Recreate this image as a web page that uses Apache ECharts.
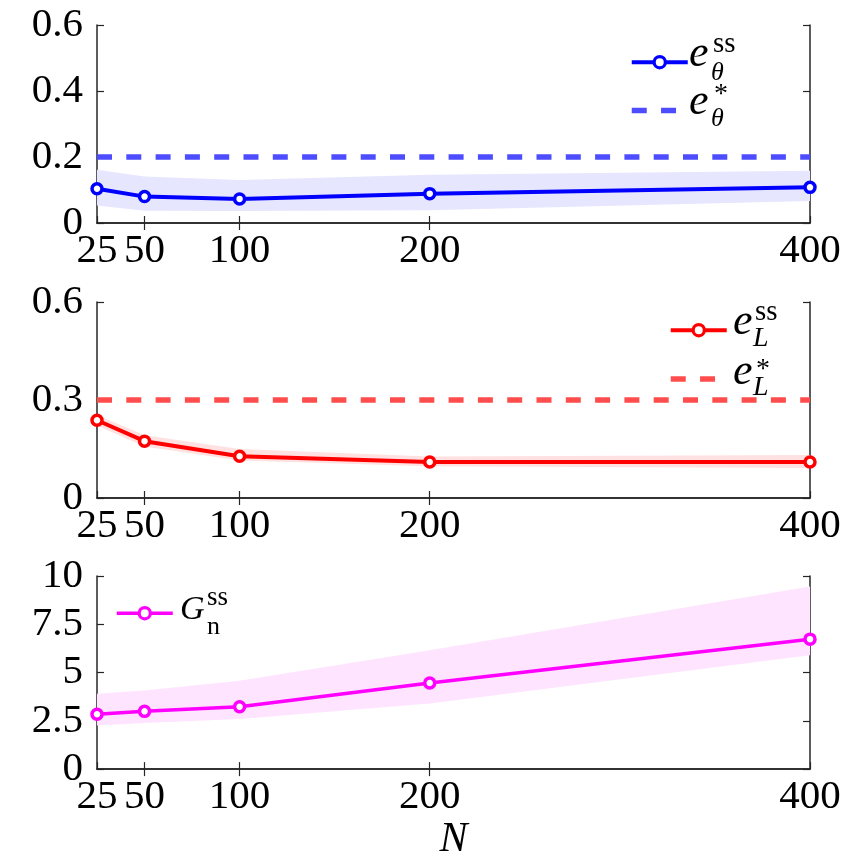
<!DOCTYPE html>
<html>
<head>
<meta charset="utf-8">
<script src="https://cdn.jsdelivr.net/npm/echarts@6/dist/echarts.min.js"></script>
<style>
  html, body { margin: 0; padding: 0; background: #fff; }
  #chart { width: 868px; height: 862px; }
</style>
</head>
<body>
<div id="chart"></div>
<script>
// sample sizes and tick values
const N = [25, 50, 100, 200, 400]
const xTicks = [25, 50, 100, 200, 400]

// panel 1: parameter error
const thetaSS = [0.104, 0.080, 0.073, 0.089, 0.108]
const thetaLo = [0.053, 0.037, 0.036, 0.039, 0.067]
const thetaHi = [0.161, 0.141, 0.130, 0.146, 0.158]
const thetaStar = 0.2

// panel 2: L error
const LSS = [0.238, 0.174, 0.128, 0.110, 0.110]
const LLo = [0.222, 0.158, 0.115, 0.097, 0.092]
const LHi = [0.254, 0.192, 0.150, 0.127, 0.132]
const LStar = 0.3

// panel 3: gain
const GSS = [2.84, 2.99, 3.23, 4.46, 6.73]
const GLo = [2.26, 2.39, 2.59, 3.40, 5.89]
const GHi = [3.90, 4.07, 4.58, 6.15, 9.46]

const FONT = '"Liberation Serif", "DejaVu Serif", serif'
const AXIS_COLOR = '#262626'

function xAxis(g, top, withName) {
  const ax = {
    gridIndex: g, type: 'value', min: 25, max: 400,
    position: top ? 'top' : 'bottom',
    axisLine: { lineStyle: { color: AXIS_COLOR, width: 1.5 } },
    axisTick: { inside: true, length: 7, customValues: top ? xTicks.slice(1, -1) : xTicks,
      lineStyle: { color: AXIS_COLOR, width: 1.2 } },
    axisLabel: { show: !top, customValues: xTicks, fontFamily: FONT, fontSize: 41, color: '#000', margin: 8 },
    splitLine: { show: false }
  }
  if (withName) {
    ax.name = 'N'
    ax.nameLocation = 'middle'
    ax.nameGap = 41
    ax.nameTextStyle = { fontFamily: FONT, fontStyle: 'italic', fontSize: 42, color: '#000' }
  }
  return ax
}

function yAxis(g, right, max, interval) {
  return {
    gridIndex: g, type: 'value', min: 0, max: max, interval: interval,
    position: right ? 'right' : 'left',
    axisLine: { show: true, lineStyle: { color: AXIS_COLOR, width: 1.5 } },
    axisTick: { show: true, inside: true, length: 7, lineStyle: { color: AXIS_COLOR, width: 1.2 } },
    axisLabel: { show: !right, fontFamily: FONT, fontSize: 41, color: '#000', margin: 14 },
    splitLine: { show: false }
  }
}

function band(axis, lo, hi, color) {
  return {
    type: 'custom', xAxisIndex: axis, yAxisIndex: axis, z: 1, silent: true,
    data: N.map((n, i) => [n, lo[i], hi[i]]),
    encode: { x: 0, y: [1, 2] },
    renderItem: function (params, api) {
      if (params.dataIndex !== 0) return null
      const pts = []
      N.forEach((n, i) => pts.push(api.coord([n, hi[i]])))
      for (let i = N.length - 1; i >= 0; i--) pts.push(api.coord([N[i], lo[i]]))
      return { type: 'polygon', shape: { points: pts }, style: { fill: color } }
    }
  }
}

function ssLine(axis, name, vals, color, width) {
  return {
    type: 'line', name: name, xAxisIndex: axis, yAxisIndex: axis, z: 4,
    data: N.map((n, i) => [n, vals[i]]),
    symbol: 'circle', symbolSize: 10,
    lineStyle: { color: color, width: width },
    itemStyle: { color: '#fff', borderColor: color, borderWidth: 3.5 }
  }
}

function starLine(axis, name, val, color) {
  return {
    type: 'line', name: name, xAxisIndex: axis, yAxisIndex: axis, z: 3,
    data: [[N[0], val], [N[N.length - 1], val]],
    symbol: 'none',
    lineStyle: { color: color, width: 5.5, type: [15, 14.3] },
    itemStyle: { color: color }
  }
}

function legend(left, top, items, gap) {
  return {
    orient: 'vertical', left: left, top: top, padding: 0,
    itemWidth: 56, itemHeight: 14, itemGap: gap,
    data: items, formatter: function () { return '' },
    textStyle: { fontSize: 8 }, selectedMode: false
  }
}

function solidItem(name, width) {
  return { name: name, itemStyle: { borderWidth: 3.2 }, lineStyle: { width: width } }
}

function dashItem(name) {
  return { name: name, itemStyle: { opacity: 0 }, lineStyle: { width: 5.5 } }
}

function txt(x, y, s, size, italic) {
  return {
    type: 'text', x: x, y: y, silent: true,
    style: { text: s, font: (italic ? 'italic ' : '') + size + 'px ' + FONT,
      fill: '#000', align: 'left', verticalAlign: 'middle' }
  }
}

const myChart = echarts.init(document.getElementById('chart'), null, { renderer: 'canvas' })

const option = {
  animation: false,
  backgroundColor: '#fff',
  grid: [
    { left: 97, right: 58, top: 25, height: 198 },
    { left: 97, right: 58, top: 302, height: 196 },
    { left: 97, right: 58, top: 576, height: 198 }
  ],
  xAxis: [xAxis(0, false), xAxis(0, true), xAxis(1, false), xAxis(1, true), xAxis(2, false, true), xAxis(2, true)],
  yAxis: [yAxis(0, false, 0.6, 0.2), yAxis(0, true, 0.6, 0.2),
    yAxis(1, false, 0.6, 0.3), yAxis(1, true, 0.6, 0.3),
    yAxis(2, false, 10, 2.5), yAxis(2, true, 10, 2.5)],
  legend: [
    legend(629, 55, [solidItem('thetaSS', 4), dashItem('thetaStar')], 34),
    legend(668, 323, [solidItem('LSS', 4), dashItem('LStar')], 34.7),
    legend(115, 606, [solidItem('GSS', 3.5)], 30)
  ],
  series: [
    band(0, thetaLo, thetaHi, '#e6e6ff'),
    starLine(0, 'thetaStar', thetaStar, '#4d4dff'),
    ssLine(0, 'thetaSS', thetaSS, '#0000ff', 4),
    band(2, LLo, LHi, '#ffe1e1'),
    starLine(2, 'LStar', LStar, '#ff4d4d'),
    ssLine(2, 'LSS', LSS, '#ff0000', 4),
    band(4, GLo, GHi, '#ffe4ff'),
    ssLine(4, 'GSS', GSS, '#ff00ff', 3.5)
  ],
  graphic: [
    // legend labels, panel 1
    txt(689, 54, 'e', 44, true), txt(713, 44, 'ss', 29, false), txt(711, 73, 'θ', 26, true),
    txt(689, 102, 'e', 44, true), txt(714, 94.5, '*', 28, false), txt(711, 119.5, 'θ', 26, true),
    // panel 2
    txt(733, 322.5, 'e', 44, true), txt(755, 312, 'ss', 29, false), txt(753, 339, 'L', 28, true),
    txt(733, 372.5, 'e', 44, true), txt(756, 369.5, '*', 28, false), txt(753, 388, 'L', 28, true),
    // panel 3
    txt(180, 610, 'G', 34, true), txt(207, 597.6, 'ss', 27, false), txt(207, 627, 'n', 26, false)
  ]
}

myChart.setOption(option)
</script>
</body>
</html>
